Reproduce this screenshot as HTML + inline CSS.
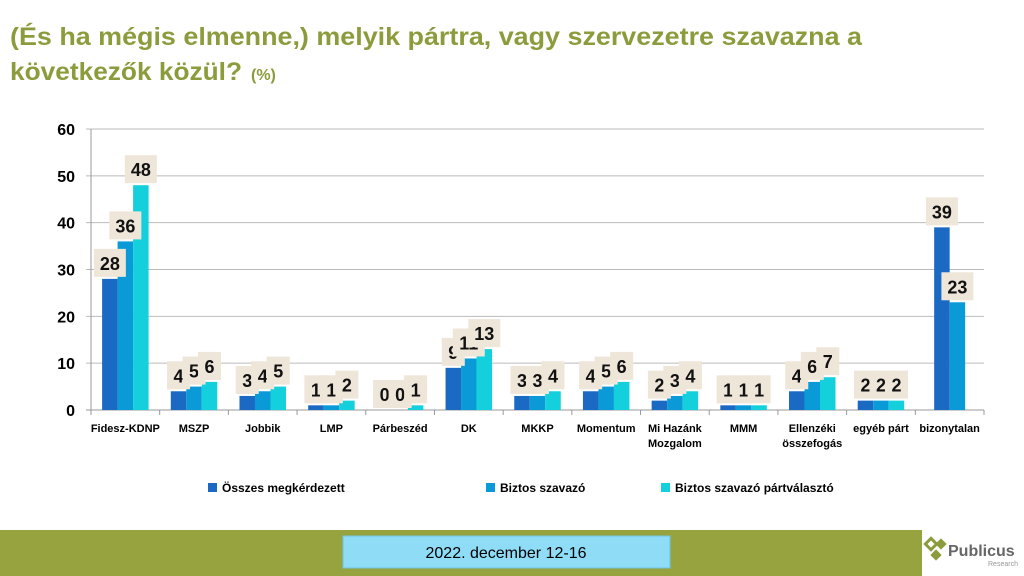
<!DOCTYPE html>
<html><head><meta charset="utf-8"><style>
html,body{margin:0;padding:0;background:#fff;}
svg{display:block;font-family:"Liberation Sans",sans-serif;}
</style></head><body>
<svg id="c" width="1024" height="576" viewBox="0 0 1024 576">
<text x="10" y="45" font-size="25" font-weight="bold" fill="#8c9c3c" textLength="852" lengthAdjust="spacingAndGlyphs">(És ha mégis elmenne,) melyik pártra, vagy szervezetre szavazna a</text>
<text x="10" y="80" font-size="25" font-weight="bold" fill="#8c9c3c" textLength="232" lengthAdjust="spacingAndGlyphs">következők közül?</text>
<text x="251" y="80" font-size="16" font-weight="bold" fill="#8c9c3c">(%)</text>
<g id="grid"></g><g id="bars"></g><g id="labels"></g>
<g>
<rect x="208" y="483" width="9" height="9" fill="#1a6ac4"/>
<text x="222" y="492" font-size="12" font-weight="bold" fill="#000">Összes megkérdezett</text>
<rect x="486" y="483" width="9" height="9" fill="#0a9ad8"/>
<text x="500" y="492" font-size="12" font-weight="bold" fill="#000">Biztos szavazó</text>
<rect x="661" y="483" width="9" height="9" fill="#14d0dc"/>
<text x="675" y="492" font-size="12" font-weight="bold" fill="#000">Biztos szavazó pártválasztó</text>
</g>
<rect x="0" y="530" width="922" height="46" fill="#97a33f"/>
<rect x="343" y="536" width="327" height="32" fill="#8fdcf7" stroke="#6cc4e6"/>
<text x="506" y="558" font-size="16" text-anchor="middle" fill="#000">2022. december 12-16</text>
<g>
<rect x="927" y="540" width="8" height="8" fill="none" stroke="#8c9c3c" stroke-width="3" transform="rotate(45 931 544)"/>
<rect x="937" y="540" width="8" height="8" fill="#8c9c3c" transform="rotate(45 941 544)"/>
<rect x="932" y="551" width="8" height="8" fill="#8c9c3c" transform="rotate(45 936 555)"/>
<text x="948" y="556" font-size="16" font-weight="bold" fill="#666">Publicus</text>
<text x="988" y="566" font-size="7" fill="#999">Research</text>
</g>
</svg>
<script>
const categories=[["Fidesz-KDNP"],["MSZP"],["Jobbik"],["LMP"],["Párbeszéd"],["DK"],["MKKP"],["Momentum"],["Mi Hazánk","Mozgalom"],["MMM"],["Ellenzéki","összefogás"],["egyéb párt"],["bizonytalan"]];
const seriesOsszes=[28,4,3,1,0,9,3,4,2,1,4,2,39];
const seriesBiztos=[36,5,4,1,0,11,3,5,3,1,6,2,23];
const seriesPart=[48,6,5,2,1,13,4,6,4,1,7,2,null];
const yTicks=[0,10,20,30,40,50,60];
const NS="http://www.w3.org/2000/svg";
const X0=91,X1=984,Y0=410,Y60=129;
const y=v=>Y0-(v/60)*(Y0-Y60);
const gw=(X1-X0)/categories.length;
const x=i=>X0+gw*i;
function mk(t,a,p){const e=document.createElementNS(NS,t);for(const k in a)e.setAttribute(k,a[k]);p.appendChild(e);return e;}
const grid=document.getElementById('grid'),bars=document.getElementById('bars'),labels=document.getElementById('labels');
yTicks.forEach(t=>{
 const l=mk('line',{x1:X0-5,x2:X1,y1:y(t),y2:y(t),stroke:t===0?'#999':'#bbb','stroke-width':1},grid);
 
 
 const tx=mk('text',{x:X0-16,y:y(t)+6,'font-size':16,'font-weight':'bold','text-anchor':'end',fill:'#000'},grid);
 tx.textContent=t;
 
 
});
mk('line',{x1:X0,x2:X0,y1:Y60,y2:Y0,stroke:'#999'},grid);
for(let i=0;i<=categories.length;i++){mk('line',{x1:x(i),x2:x(i),y1:Y0,y2:Y0+5,stroke:'#999'},grid);}
const ser=[seriesOsszes,seriesBiztos,seriesPart],cols=['#1a6ac4','#0a9ad8','#14d0dc'],names=['osszes','biztos','partvalaszto'];
const bw=15.5;
categories.forEach((c,i)=>{
 const n=ser.filter(s=>s[i]!=null).length;
 const start=x(i)+gw/2-n*bw/2;
 let k=0;
 ser.forEach((s,j)=>{
  if(s[i]==null)return;
  const bx=start+k*bw;k++;
  const r=mk('rect',{x:bx,y:y(s[i]),width:bw,height:Y0-y(s[i]),fill:cols[j]},bars);
  
  
  const txt=String(s[i]);const w=txt.length>1?32:23;
  const g=mk('g',{},labels);
  
  
  const cy=y(s[i])-16;
  mk('rect',{x:bx+bw/2-w/2,y:cy-14,width:w,height:28,fill:'#efe6da'},g);
  const t=mk('text',{x:bx+bw/2,y:cy+7,'font-size':18,'font-weight':'bold','text-anchor':'middle',fill:'#111'},g);
  t.textContent=txt;
 });
 c.forEach((line,li)=>{
  const t=mk('text',{x:x(i)+gw/2,y:432+li*15,'font-size':11,'font-weight':'bold','text-anchor':'middle',fill:'#000'},grid);
  t.textContent=line;
  
  
 });
});
</script>
</body></html>
